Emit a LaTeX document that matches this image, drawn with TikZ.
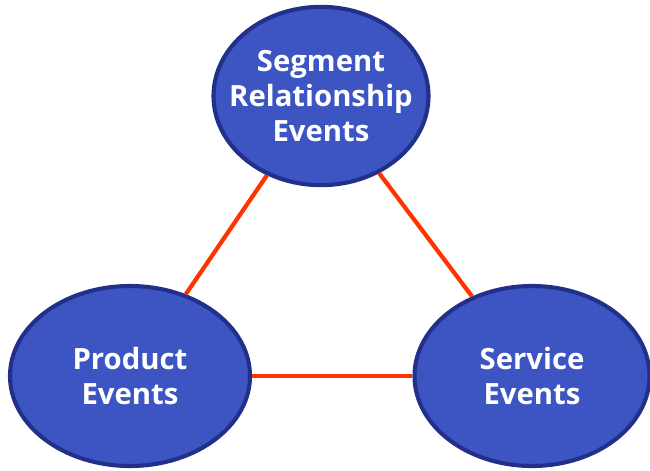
\documentclass[tikz,border=0pt]{standalone}
\usepackage{fontspec}
\setsansfont{Open Sans}
\usetikzlibrary{shapes.geometric}
\definecolor{evfill}{HTML}{3C55C2}
\definecolor{evrim}{HTML}{22308A}
\definecolor{evlink}{HTML}{FF3300}
\tikzset{
  event/.style={ellipse, fill=evfill, draw=evrim, line width=3.5pt,
    text=white, align=center, inner sep=0pt,
    font=\sffamily\bfseries\fontsize{25}{30}\selectfont},
  link/.style={evlink, line width=3.6pt}
}
\begin{document}
\begin{tikzpicture}[x=0.03cm, y=-0.03cm]
        % frame
        \useasboundingbox (0,0) rectangle (650,470);
        % events
        \node[event, inner xsep=-0.55cm, minimum width=6.45cm, minimum height=5.35cm] (segment) at (321,96) {Segment\\Relationship\\Events};
        \node[event, minimum width=7.2cm, minimum height=5.4cm] (product) at (130,376) {Product\\Events};
        \node[event, minimum width=7.05cm, minimum height=5.4cm] (service) at (532,376) {Service\\Events};
        % links
        \draw[link] (segment) -- (product);
        \draw[link] (segment) -- (service);
        \draw[link] (product) -- (service);
\end{tikzpicture}
\end{document}
